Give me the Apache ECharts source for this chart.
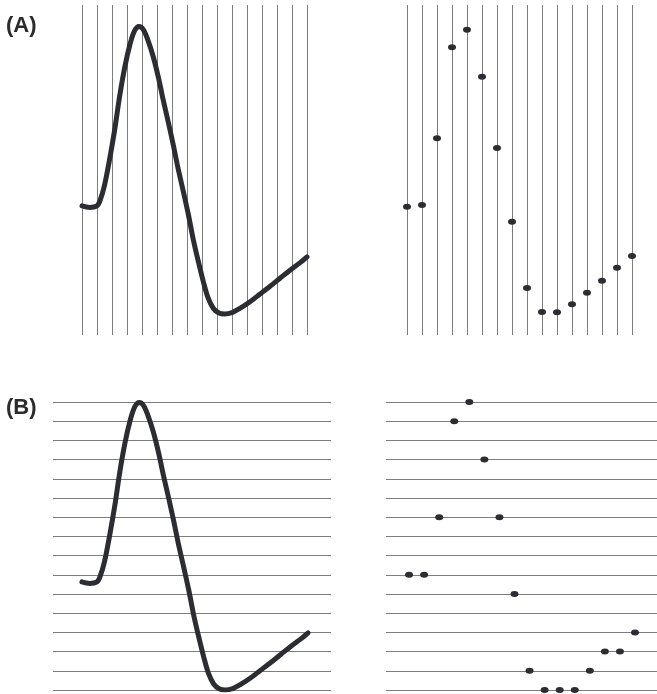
<!DOCTYPE html>
<html>
<head>
<meta charset="utf-8">
<script src="https://cdn.jsdelivr.net/npm/echarts@6/dist/echarts.min.js"></script>
<style>html,body{margin:0;padding:0;background:#fff}#c{width:657px;height:694px}</style>
</head>
<body>
<div id="c"></div>
<script>
// Continuous signal: [sample position, amplitude level]
const curveX = [0,0.5,1.0,1.2,1.5,1.85,2.2,2.5,2.85,3.2,3.5,3.8,4.1,4.4,4.75,5.1,5.4,5.75,6.1,6.4,6.75,7.1,7.4,7.75,8.1,8.4,8.75,9.1,9.5,10.0,10.5,11.2,11.85,12.5,13.2,13.85,14.5,15.0];
const curveY = [5.63,5.55,5.63,5.9,6.7,8.1,9.7,11.3,12.85,14.05,14.75,14.97,14.8,14.25,13.4,12.3,11.2,10.0,8.75,7.6,6.4,5.15,3.95,2.75,1.65,0.85,0.3,0.07,0,0.07,0.28,0.64,1.03,1.42,1.86,2.27,2.65,2.98];
// (A) time-sampled values
const sampleIdx = [0,1,2,3,4,5,6,7,8,9,10,11,12,13,14,15];
const sampledA = [5.59,5.68,9.15,13.89,14.81,12.36,8.65,4.81,1.35,0.10,0.09,0.51,1.11,1.73,2.41,3.02];
// (B) amplitude-quantized levels
const quantB = [6,6,9,14,15,12,9,5,1,0,0,0,1,2,2,3];
const panelLabels = ['(A)', '(B)'];

const lineCol = '#7d7d7d';
const ink = '#2b2d32';

const curve = curveX.map((x, i) => [x, curveY[i]]);
const ptsA = sampleIdx.map((x, i) => [x, sampledA[i]]);
const ptsB = sampleIdx.map((x, i) => [x, quantB[i]]);

function hidden(grid, min, max) {
  return {type:'value', gridIndex:grid, min:min, max:max,
    axisLine:{show:false}, axisTick:{show:false}, axisLabel:{show:false}, splitLine:{show:false}};
}
function gridded(grid, min, max) {
  return {type:'value', gridIndex:grid, min:min, max:max, interval:1,
    axisLine:{show:false}, axisTick:{show:false}, axisLabel:{show:false},
    splitLine:{show:true, lineStyle:{color:lineCol, width:1}}};
}

const chart = echarts.init(document.getElementById('c'), null, {renderer:'canvas'});
chart.setOption({
  animation:false,
  backgroundColor:'#fff',
  grid:[
    {left:82, top:5, width:225, height:330},
    {left:407, top:5, width:225, height:330},
    {left:53, top:402, width:278, height:288},
    {left:386, top:402, width:271, height:288}
  ],
  xAxis:[
    gridded(0, 0, 15),
    gridded(1, 0, 15),
    hidden(2, -1.92, 16.52),
    hidden(3, -1.53, 16.46)
  ],
  yAxis:[
    hidden(0, -1.094, 16.094),
    hidden(1, -1.094, 16.094),
    gridded(2, 0, 15),
    gridded(3, 0, 15)
  ],
  series:[
    {type:'line', xAxisIndex:0, yAxisIndex:0, data:curve, smooth:0.3, showSymbol:false,
     lineStyle:{color:ink, width:5, cap:'round', join:'round'}},
    {type:'scatter', xAxisIndex:1, yAxisIndex:1, data:ptsA, symbol:'circle', symbolSize:[8,6],
     itemStyle:{color:ink, opacity:1}},
    {type:'line', xAxisIndex:2, yAxisIndex:2, data:curve, smooth:0.3, showSymbol:false,
     lineStyle:{color:ink, width:5, cap:'round', join:'round'}},
    {type:'scatter', xAxisIndex:3, yAxisIndex:3, data:ptsB, symbol:'circle', symbolSize:[8,6],
     itemStyle:{color:ink, opacity:1}}
  ],
  graphic:[
    {type:'text', left:6, top:15, style:{text:panelLabels[0], font:'bold 22px "Liberation Sans", Arial, sans-serif', fill:'#2b2b2b'}},
    {type:'text', left:6, top:397, style:{text:panelLabels[1], font:'bold 22px "Liberation Sans", Arial, sans-serif', fill:'#2b2b2b'}}
  ]
});
</script>
</body>
</html>
